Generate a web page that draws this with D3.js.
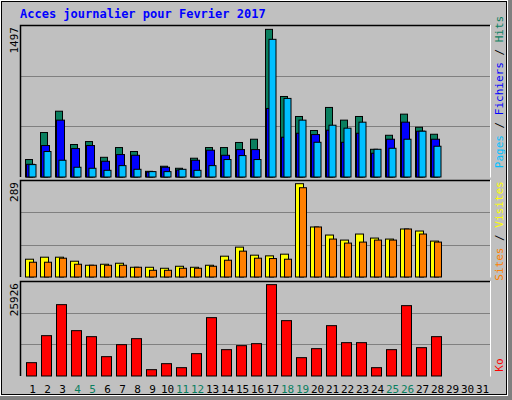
<!DOCTYPE html>
<html><head><meta charset="utf-8">
<script src="https://cdn.jsdelivr.net/npm/d3@7"></script>
<style>body{margin:0;background:#fff}svg{display:block}</style>
</head><body>
<script>
const days = d3.range(1, 32);
const weekend = [4,5,11,12,18,19,25,26];
const hits  = [172,438,648,320,349,194,290,251,56,106,86,185,290,290,340,372,1454,793,596,458,685,560,596,273,411,619,490,421];
const files = [125,310,560,280,310,155,221,214,49,96,69,165,264,214,270,270,675,392,431,418,461,342,431,234,372,540,451,372];
const pages = [122,251,165,96,86,66,112,76,53,53,76,66,112,172,211,172,1356,774,560,342,510,481,540,273,283,372,451,303];
const visits= [53,59,59,47,35,38,41,29,29,26,32,29,35,62,89,65,63,68,278,149,125,110,128,116,113,143,137,107];
const sites = [44,44,56,38,35,35,35,29,20,20,26,26,32,50,77,56,55,53,266,149,113,101,104,110,110,143,128,104];
const ko    = [3640,11010,19474,12376,10738,5278,8554,10192,1729,3367,2275,6097,15925,7189,8281,8827,24934,15106,5005,7462,13741,9100,9100,2275,7189,19201,7735,10738];
const maxTop = 1497, maxMid = 289, maxBot = 25926;

const W = 512, H = 400, L = 20, R = 490;
const svg = d3.select("body").append("svg").attr("width", W).attr("height", H);
const font = "DejaVu Sans Mono";
svg.append("rect").attr("width", W).attr("height", H).attr("fill", "#c0c0c0");
svg.append("rect").attr("x", 507).attr("y", 0).attr("width", 5).attr("height", H).attr("fill", "#808080");
svg.append("rect").attr("x", 0).attr("y", 395).attr("width", W).attr("height", 5).attr("fill", "#808080");
svg.append("rect").attr("x", 1.5).attr("y", 1.5).attr("width", 505).attr("height", 393).attr("fill", "none").attr("stroke", "#000");
svg.append("rect").attr("x", 0.5).attr("y", 0.5).attr("width", 507).attr("height", 395).attr("fill", "none").attr("stroke", "#fff");

svg.append("text").attr("x", 20).attr("y", 18).attr("font-family", font).attr("font-size", 12)
  .attr("font-weight", "bold").attr("fill", "#0000ff").text("Acces journalier pour Fevrier 2017");

const x = d3.scaleBand().domain(days).range([L, L + 465]).padding(0);

function panel(top, bottom, max, label) {
  const y = d3.scaleLinear().domain([0, max]).range([bottom, top]);
  const g = svg.append("g");
  g.append("rect").attr("x", L).attr("y", top).attr("width", R - L).attr("height", bottom - top).attr("fill", "#c0c0c0");
  [max / 3, 2 * max / 3].forEach(v => g.append("line").attr("x1", L).attr("x2", R)
    .attr("y1", Math.round(y(v)) + .5).attr("y2", Math.round(y(v)) + .5).attr("stroke", "#808080"));
  g.append("path").attr("d", `M${L+.5},${bottom}V${top+.5}H${R}`).attr("fill", "none").attr("stroke", "#000").attr("stroke-width", 1.5);
  g.append("path").attr("d", `M${R+.5},${top}V${bottom+.5}`).attr("fill", "none").attr("stroke", "#fff");
  g.append("text").attr("transform", `translate(18,${top+2}) rotate(-90)`).attr("text-anchor", "end")
    .attr("font-family", font).attr("font-size", 11).attr("fill", "#000").text(label);
  return y;
}
function bars(data, y, off, w, color) {
  svg.append("g").selectAll("rect").data(data).join("rect")
    .attr("x", (d, i) => x(i + 1) + off).attr("width", w)
    .attr("y", d => y(d)).attr("height", d => y(0) - y(d))
    .attr("fill", color).attr("stroke", "#000").attr("stroke-width", 1);
}
const y1 = panel(25, 177, maxTop, "1497");
bars(hits, y1, 5.5, 7, "#0a7f5f");
bars(files, y1, 6.5, 8, "#0000ff");
bars(pages, y1, 9, 7, "#00c0ff");
const y2 = panel(180, 277, maxMid, "289");
bars(visits, y2, 5.5, 8, "#ffff00");
bars(sites, y2, 9.5, 7, "#ff8000");
const y3 = panel(281, 376, maxBot, "25926");
bars(ko, y3, 6.5, 10, "#ff0000");

svg.append("g").selectAll("text").data(days).join("text")
  .attr("x", d => x(d) + 12.5).attr("y", 393).attr("text-anchor", "middle")
  .attr("font-family", font).attr("font-size", 11)
  .attr("fill", d => weekend.includes(d) ? "#0a7f5f" : "#000").text(d => d);

function rlabel(cy, parts) {
  const t = svg.append("text").attr("transform", `translate(503,${cy}) rotate(-90)`).attr("text-anchor", "middle")
    .attr("font-family", font).attr("font-size", 11);
  parts.forEach(([s, c]) => t.append("tspan").attr("fill", c).text(s));
}
rlabel(92, [["Pages", "#00c0ff"], [" / ", "#000"], ["Fichiers", "#0000ff"], [" / ", "#000"], ["Hits", "#0a7f5f"]]);
rlabel(231, [["Sites", "#ff8000"], [" / ", "#000"], ["Visites", "#ffff00"]]);
rlabel(365, [["Ko", "#ff0000"]]);
</script>
</body></html>
